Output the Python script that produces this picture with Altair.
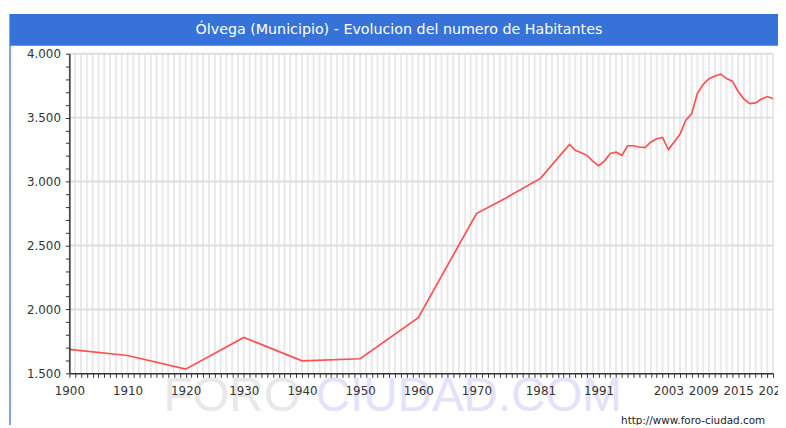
import altair as alt
import pandas as pd

# ---- data ----
years = [1900, 1910, 1920, 1930, 1940, 1950, 1960, 1970, 1975, 1981,
         1986, 1987, 1988, 1989, 1990, 1991, 1992, 1993, 1994, 1995,
         1996, 1997, 1998, 1999, 2000, 2001, 2002, 2003, 2004, 2005,
         2006, 2007, 2008, 2009, 2010, 2011, 2012, 2013, 2014, 2015,
         2016, 2017, 2018, 2019, 2020, 2021]
habitantes = [1688, 1640, 1533, 1781, 1598, 1614, 1935, 2750, 2870, 3025,
              3290, 3245, 3225, 3205, 3160, 3125, 3160, 3220, 3230, 3205,
              3280, 3280, 3270, 3265, 3310, 3335, 3345, 3250, 3310, 3370,
              3480, 3530, 3690, 3760, 3805, 3825, 3840, 3805, 3785, 3705,
              3645, 3610, 3615, 3645, 3665, 3650]
label_years = [1900, 1910, 1920, 1930, 1940, 1950, 1960, 1970, 1981, 1991,
               2003, 2009, 2015, 2021]
grid_years = list(range(1900, 2022))
y_ticks = list(range(1500, 4001, 100))
y_grid = [2000, 2500, 3000, 3500, 4000]
title_text = "Ólvega (Municipio) - Evolucion del numero de Habitantes"
url_text = "http://www.foro-ciudad.com"
wm1, wm2 = "FORO", "CIUDAD.COM"

W, H = 711, 323
FONT = "DejaVu Sans"
AX = "#333333"

df = pd.DataFrame({"anio": years, "hab": habitantes})
one = pd.DataFrame({"k": [0]})

xscale = alt.Scale(domain=[1900, 2021], nice=False, zero=False)
yscale = alt.Scale(domain=[1500, 4000], nice=False, zero=False)

xaxis = alt.Axis(
    values=grid_years,
    labelExpr="indexof(" + str(label_years) + ", datum.value) >= 0 ? toString(datum.value) : ''",
    labelOverlap=False, labelFlush=False, labelBound=False,
    tickSize=4, tickColor=AX, tickWidth=1,
    domainColor=AX, domainWidth=1.5,
    labelFont=FONT, labelFontSize=12, labelColor=AX, labelPadding=8,
    grid=False, title=None, zindex=1,
)
yaxis = alt.Axis(
    values=y_ticks,
    labelExpr="datum.value % 500 === 0 ? replace(format(datum.value, ','), ',', '.') : ''",
    labelOverlap=False, labelFlush=False, labelBound=False,
    tickSize=4, tickColor=AX, tickWidth=1,
    domainColor=AX, domainWidth=1.5,
    labelFont=FONT, labelFontSize=12, labelColor=AX, labelPadding=5,
    grid=False, title=None, zindex=1,
)

# frame / title bar (decoration)
frame = alt.Chart(one).mark_rule(color="#7da6ea", strokeWidth=2).encode(
    x=alt.value(-60), y=alt.value(-40), y2=alt.value(H + 60)
)
bar = alt.Chart(one).mark_rect(color="#3772d8").encode(
    x=alt.value(-60), x2=alt.value(W + 10), y=alt.value(-40), y2=alt.value(-8)
)
title = alt.Chart(pd.DataFrame({"t": [title_text]})).mark_text(
    font=FONT, fontSize=14.4, color="white", align="center", baseline="middle"
).encode(x=alt.value(333), y=alt.value(-24), text="t:N")

# watermark
wmark1 = alt.Chart(pd.DataFrame({"t": [wm1]})).mark_text(
    font="Liberation Sans", fontSize=48, color="#e8e8e8", align="left",
    baseline="alphabetic"
).encode(x=alt.value(95), y=alt.value(361), text="t:N")
wmark2 = alt.Chart(pd.DataFrame({"t": [wm2]})).mark_text(
    font="Liberation Sans", fontSize=48, color="#e2e2fb", align="left",
    baseline="alphabetic"
).encode(x=alt.value(249), y=alt.value(361), text="t:N")

vgrid = alt.Chart(pd.DataFrame({"anio": grid_years})).mark_rule(
    color="#e9e9e9", strokeWidth=2
).encode(x=alt.X("anio:Q", scale=xscale, axis=xaxis))

hgrid = alt.Chart(pd.DataFrame({"v": y_grid})).mark_rule(
    color="#dddddd", strokeWidth=2
).encode(y=alt.Y("v:Q", scale=yscale, axis=yaxis))

line = alt.Chart(df).mark_line(color="#ff5050", strokeWidth=1.7).encode(
    x=alt.X("anio:Q", scale=xscale, axis=xaxis),
    y=alt.Y("hab:Q", scale=yscale, axis=yaxis),
)

url = alt.Chart(pd.DataFrame({"t": [url_text]})).mark_text(
    font=FONT, fontSize=10.5, color="#222222", align="right", baseline="middle"
).encode(x=alt.value(703), y=alt.value(371), text="t:N")

chart = alt.layer(
    frame, bar, title, wmark1, wmark2, vgrid, hgrid, line, url
).properties(
    width=W, height=H,
    padding={"left": 62, "top": 44, "right": 5, "bottom": 50},
    autosize=alt.AutoSizeParams(type="none"),
    background="white",
).configure_view(stroke="transparent")

chart.save("out.html", embed_options={"renderer": "svg", "actions": False})
